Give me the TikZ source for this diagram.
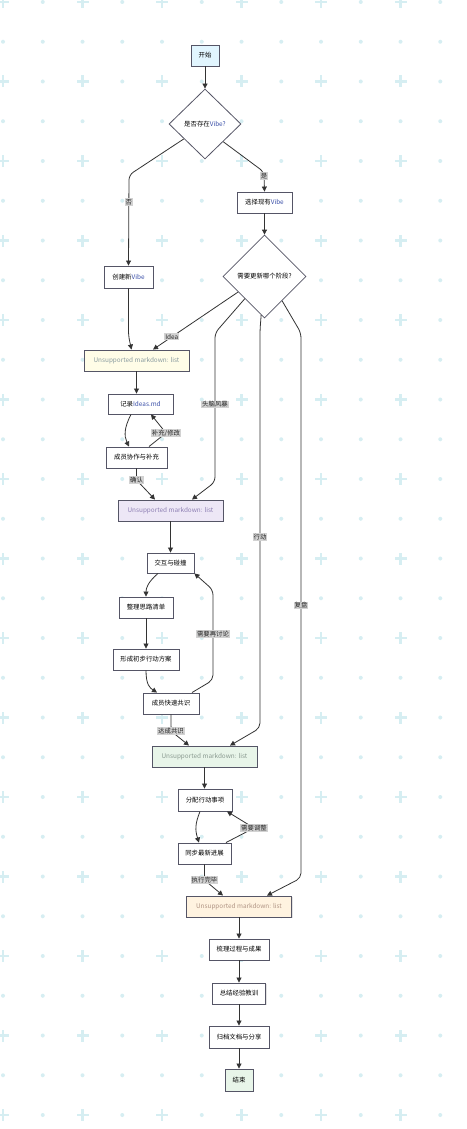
\documentclass[tikz,border=0pt]{standalone}
\usepackage{fontspec}
\setmainfont{Noto Sans CJK SC}
\usetikzlibrary{arrows.meta,shapes.geometric,calc,shadows}
\definecolor{gridc}{HTML}{D6EEF2}
\definecolor{edgec}{HTML}{333333}
\definecolor{bordc}{HTML}{555566}
\definecolor{latblue}{HTML}{3A4FA8}
\definecolor{fstart}{HTML}{E1F5FE}
\definecolor{fyellow}{HTML}{FFFDE7}
\definecolor{fpurple}{HTML}{EDE7F6}
\definecolor{fgreen}{HTML}{E8F5E9}
\definecolor{forange}{HTML}{FFF3E0}
\definecolor{lblc}{HTML}{D2D2D2}
\definecolor{tyellow}{HTML}{8A9CA0}
\definecolor{tpurple}{HTML}{8E80B4}
\definecolor{tgreen}{HTML}{8A9A90}
\definecolor{torange}{HTML}{B09484}
\newcommand\lat[1]{\textcolor{latblue}{#1}}
\tikzset{
  box/.style={draw=bordc, line width=0.9pt, fill=white, minimum height=21pt, inner sep=1pt,
    font=\fontsize{6.4}{7}\selectfont, text=black,
    drop shadow={opacity=0.22, shadow xshift=1.2pt, shadow yshift=-1.2pt}},
  listbox/.style={box, minimum width=105pt},
  decision/.style={draw=bordc, line width=0.8pt, fill=white, shape=diamond, inner sep=0pt,
    font=\fontsize{6.4}{7}\selectfont},
  edge/.style={draw=edgec, line width=0.8pt, rounded corners=5pt,
    -{Triangle[length=5pt,width=5pt]}},
  lbl/.style={fill=lblc, inner sep=1pt, font=\fontsize{6.4}{7}\selectfont, text=black!85, rounded corners=0pt},
}
\begin{document}
\begin{tikzpicture}[x=1pt,y=-1pt]
\useasboundingbox (0,0) rectangle (466,1129);
\fill[white] (0,0) rectangle (466,1129);
% background grid
\foreach \i in {0,...,11}{
  \foreach \j in {0,...,28}{
    \pgfmathsetmacro{\gx}{3+39.75*\i}
    \pgfmathsetmacro{\gy}{2+39.75*\j}
    \pgfmathparse{int(mod(\i,2)+mod(\j,2))}
    \ifnum\pgfmathresult=0
      \fill[gridc] (\gx-6,\gy-1.4) rectangle (\gx+6,\gy+1.4);
      \fill[gridc] (\gx-1.4,\gy-6) rectangle (\gx+1.4,\gy+6);
    \else
      \fill[gridc] (\gx,\gy) circle (2pt);
    \fi
  }
}
% nodes
\node[box, fill=fstart, minimum width=28pt] (start) at (205,55.5) {开始};
\node[decision, minimum width=72pt, minimum height=70pt] (d1) at (205,124) {是否存在\lat{Vibe?}};
\node[box, minimum width=55pt] (sel) at (264.5,202.5) {选择现有\lat{Vibe}};
\node[box, minimum width=49pt, minimum height=22pt] (cv) at (128.5,277) {创建新\lat{Vibe}};
\node[decision, minimum width=83pt, minimum height=83pt] (d2) at (264.5,276.5) {需要更新哪个阶段?};
\node[listbox, fill=fyellow, text=tyellow] (b1) at (136.5,360.5) {Unsupported markdown: list};
\node[box, minimum width=65pt, minimum height=20pt] (rec) at (140.5,404) {记录\lat{Ideas.md}};
\node[box, minimum width=61pt] (col) at (136.5,457.5) {成员协作与补充};
\node[listbox, fill=fpurple, text=tpurple] (b2) at (170.5,510.5) {Unsupported markdown: list};
\node[box, minimum width=47pt, minimum height=20pt] (ix) at (170.5,563) {交互与碰撞};
\node[box, minimum width=54pt] (org) at (146,607.5) {整理思路清单};
\node[box, minimum width=66pt] (form) at (146,659.5) {形成初步行动方案};
\node[box, minimum width=56pt] (fast) at (171,703.5) {成员快速共识};
\node[listbox, fill=fgreen, text=tgreen] (b3) at (204.5,756.5) {Unsupported markdown: list};
\node[box, minimum width=54pt, minimum height=22pt] (alloc) at (205,800) {分配行动事项};
\node[box, minimum width=53pt] (sync) at (204.5,853.5) {同步最新进展};
\node[listbox, fill=forange, text=torange] (b4) at (239,906.5) {Unsupported markdown: list};
\node[box, minimum width=60pt] (sort) at (239,949.5) {梳理过程与成果};
\node[box, minimum width=53pt] (sum) at (239,993.5) {总结经验教训};
\node[box, minimum width=60pt, minimum height=22pt] (arch) at (239,1037) {归档文档与分享};
\node[box, fill=fgreen, minimum width=28pt, minimum height=22pt] (end) at (239,1080) {结束};
% edges
\draw[edge] (start.south) -- (d1.north);
\draw[edge] ($(d1.west)!0.42!(d1.south)$) -- (129,175) -- node[lbl, pos=0.3] {否} (cv.north);
\draw[edge] ($(d1.south)!0.5!(d1.east)$) -- (264,172) -- node[lbl, pos=0.2] {是} (sel.north);
\draw[edge] (sel.south) -- (d2.north);
\draw[edge] (cv.south) -- (128.5,336) -- ([xshift=-5pt]b1.north);
\draw[edge] ($(d2.west)!0.37!(d2.south)$) -- node[lbl, pos=0.78] {Idea} ([xshift=16.5pt]b1.north);
\draw[edge] ($(d2.west)!0.53!(d2.south)$) -- (215,333) -- node[lbl, pos=0.48] {头脑风暴} (215,482) -- ([xshift=21.5pt]b2.north);
\draw[edge] ($(d2.west)!0.92!(d2.south)$) -- (260,330) -- node[lbl, pos=0.52] {行动} (260,728) -- ([xshift=25.5pt]b3.north);
\draw[edge] ($(d2.south)!0.42!(d2.east)$) -- (301,333) -- node[lbl, pos=0.5] {复盘} (301,878) -- ([xshift=28pt]b4.north);
\draw[edge] (b1.south) -- (b1.south |- rec.north);
\draw[edge] ([xshift=-9.5pt]rec.south) .. controls (124,428) and (124,436) .. ([xshift=-7.5pt]col.north);
\draw[edge] ([xshift=12.5pt]col.north) -- (166,433) node[lbl] {补充/修改} -- ([xshift=10.5pt]rec.south);
\draw[edge] (col.south) -- (136.5,480) node[lbl] {确认} -- ([xshift=-15.5pt]b2.north);
\draw[edge] (b2.south) -- (b2.south |- ix.north);
\draw[edge] ([xshift=-12.5pt]ix.south) .. controls (148,582) and (146,588) .. (org.north);
\draw[edge] (org.south) -- (form.north);
\draw[edge] (form.south) .. controls (146,685) and (150,688) .. ([xshift=-14pt]fast.north);
\draw[edge] ([xshift=21pt]fast.north) -- (213,680) -- node[lbl, pos=0.51] {需要再讨论} (213,590) -- (ix.south east);
\draw[edge] (fast.south) -- (171,731) node[lbl] {达成共识} -- ([xshift=-15.5pt]b3.north);
\draw[edge] (b3.south) -- (b3.south |- alloc.north);
\draw[edge] ([xshift=-5pt]alloc.south) .. controls (195,824) and (195,830) .. ([xshift=-5.5pt]sync.north);
\draw[edge] ([xshift=21.5pt]sync.north) -- (254,828) node[lbl] {需要调整} -- ([xshift=22pt]alloc.south);
\draw[edge] (sync.south) -- (204.5,880) node[lbl] {执行完毕} -- ([xshift=-16pt]b4.north);
\draw[edge] (b4.south) -- (sort.north);
\draw[edge] (sort.south) -- (sum.north);
\draw[edge] (sum.south) -- (arch.north);
\draw[edge] (arch.south) -- (end.north);
\end{tikzpicture}
\end{document}
